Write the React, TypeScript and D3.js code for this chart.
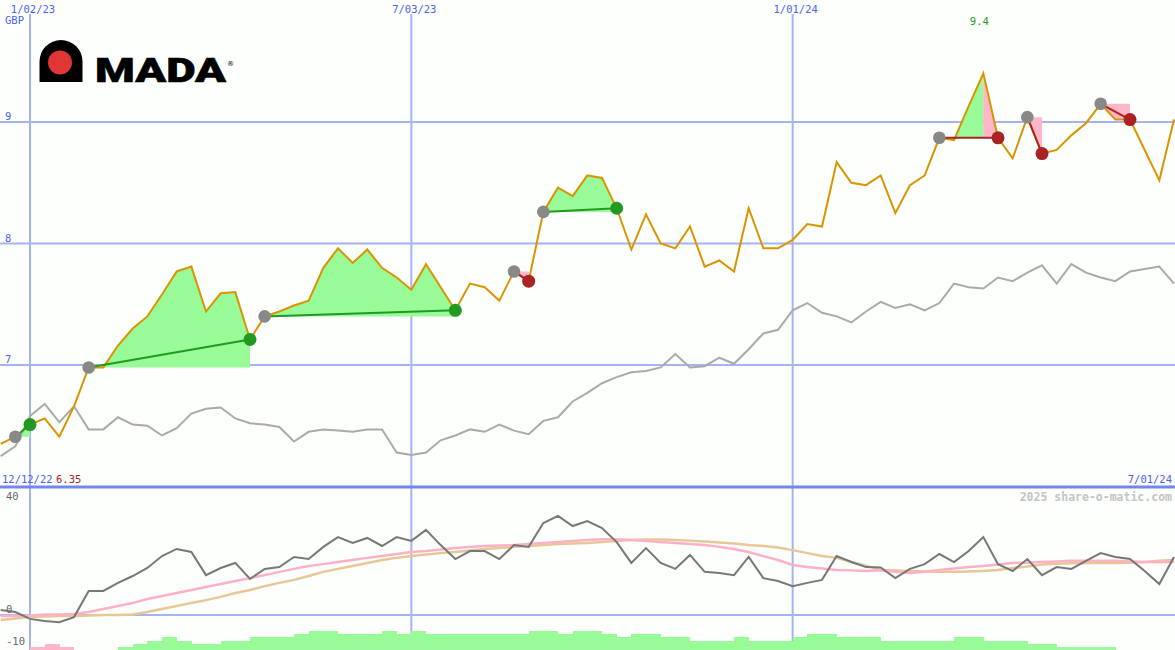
import React from "react";
import * as d3 from "d3";

// ---------- DATA (weekly, Mondays from 19 Dec 2022 to 1 Jul 2024) ----------
const startWeek = "2022-12-19";
const endWeek = "2024-07-01";

const price = [
  6.35, 6.41, 6.51, 6.56, 6.41, 6.66, 6.98, 6.98, 7.16, 7.30,
  7.40, 7.58, 7.77, 7.81, 7.44, 7.59, 7.60, 7.21, 7.40, 7.44,
  7.49, 7.53, 7.80, 7.96, 7.84, 7.95, 7.80, 7.72, 7.62, 7.83,
  7.64, 7.45, 7.67, 7.64, 7.53, 7.77, 7.69, 8.26, 8.46, 8.39,
  8.56, 8.54, 8.29, 7.95, 8.24, 8.00, 7.96, 8.14, 7.81, 7.86,
  7.77, 8.29, 7.96, 7.96, 8.03, 8.16, 8.14, 8.67, 8.50, 8.48,
  8.56, 8.25, 8.48, 8.56, 8.87, 8.85, 9.13, 9.40, 8.87, 8.70,
  9.04, 8.74, 8.77, 8.89, 8.99, 9.15, 9.02, 9.02, 8.77, 8.52,
  9.02,
];

const relative = [
  6.25, 6.33, 6.58, 6.68, 6.53, 6.66, 6.47, 6.47, 6.57, 6.51,
  6.50, 6.42, 6.48, 6.60, 6.64, 6.65, 6.56, 6.52, 6.51, 6.49,
  6.37, 6.45, 6.47, 6.46, 6.45, 6.47, 6.47, 6.28, 6.26, 6.28,
  6.38, 6.42, 6.47, 6.45, 6.51, 6.46, 6.43, 6.54, 6.57, 6.70,
  6.77, 6.85, 6.90, 6.94, 6.95, 6.98, 7.09, 6.98, 6.99, 7.06,
  7.01, 7.13, 7.26, 7.29, 7.45, 7.51, 7.43, 7.40, 7.35, 7.44,
  7.52, 7.47, 7.50, 7.45, 7.51, 7.67, 7.64, 7.63, 7.72, 7.69,
  7.76, 7.82, 7.67, 7.83, 7.76, 7.72, 7.69, 7.77, 7.79, 7.81,
  7.67,
];

const oscillator = [
  1.7, 1.0, -1.3, -2.0, -2.4, -0.7, 8.1, 8.1, 10.8, 13.1,
  15.8, 19.8, 22.2, 21.2, 13.4, 15.8, 17.5, 12.1, 15.5, 16.1,
  19.5, 18.8, 22.9, 26.2, 24.2, 25.9, 23.2, 26.2, 24.9, 28.6,
  23.5, 18.8, 21.5, 21.5, 18.8, 23.5, 22.9, 30.9, 33.3, 29.9,
  31.6, 29.2, 24.5, 17.5, 22.5, 17.5, 15.5, 20.2, 14.5, 14.1,
  13.4, 19.5, 12.4, 11.4, 9.7, 10.8, 11.8, 19.8, 17.8, 16.1,
  16.0, 12.4, 15.5, 17.1, 20.5, 17.8, 21.5, 26.2, 17.1, 14.8,
  18.8, 13.4, 16.1, 15.5, 18.2, 20.8, 19.5, 18.8, 14.8, 10.4,
  19.5,
];

const signalFast = [
  -0.3, -0.3, -0.2, 0.2, 0.2, 0.3, 1.0, 2.0, 3.0, 4.0,
  5.4, 6.4, 7.4, 8.4, 9.4, 10.4, 11.4, 12.4, 13.4, 14.5,
  15.5, 16.5, 17.1, 17.8, 18.5, 19.2, 19.8, 20.5, 21.2, 21.5,
  22.0, 22.5, 22.9, 23.2, 23.4, 23.5, 23.9, 24.2, 24.5, 24.9,
  25.2, 25.5, 25.5, 25.2, 24.9, 24.5, 24.2, 23.9, 23.5, 22.9,
  22.2, 21.2, 19.8, 18.5, 16.8, 16.1, 15.6, 15.1, 15.0, 14.8,
  15.0, 14.5, 14.1, 14.5, 15.1, 15.6, 16.1, 16.5, 17.0, 17.5,
  17.6, 17.8, 18.0, 18.2, 18.2, 18.2, 18.2, 18.0, 17.8, 17.8,
  17.8,
];

const signalSlow = [
  -1.7, -1.2, -0.7, -0.5, -0.3, -0.3, -0.2, 0.0, 0.0, 0.2,
  1.0, 2.0, 3.0, 4.0, 5.0, 6.1, 7.4, 8.4, 9.7, 10.8,
  11.8, 13.1, 14.5, 15.5, 16.5, 17.5, 18.5, 19.2, 19.8, 20.3,
  20.8, 21.2, 21.7, 22.2, 22.5, 22.9, 23.2, 23.5, 23.9, 24.0,
  24.2, 24.5, 24.9, 25.2, 25.4, 25.4, 25.2, 25.0, 24.7, 24.4,
  24.0, 23.5, 23.2, 22.7, 21.8, 20.8, 19.8, 19.2, 17.8, 16.6,
  15.1, 15.0, 14.8, 14.6, 14.5, 14.5, 14.6, 14.8, 15.1, 15.8,
  16.3, 17.0, 17.2, 17.4, 17.5, 17.5, 17.5, 17.6, 17.8, 18.2,
  18.5,
];

const histogram = [
  0, 0, -1, -2, -1, 0, 0, 0, 1, 2,
  3, 4, 3, 2, 2, 3, 3, 4, 4, 4,
  5, 6, 6, 5, 5, 5, 6, 5, 6, 5,
  5, 5, 5, 5, 5, 5, 6, 6, 5, 6,
  6, 5, 4, 5, 5, 4, 4, 3, 3, 3,
  4, 3, 3, 3, 4, 5, 5, 4, 4, 4,
  3, 3, 3, 3, 3, 4, 4, 3, 3, 3,
  2, 2, 1, 1, 1, 1, 0, 0, 0, 0,
  0,
];

// trades: indices into the weekly arrays
const tradeEntry = [1, 6, 18, 35, 37, 64, 70, 75];
const tradeExit = [2, 17, 31, 36, 42, 68, 71, 77];
const tradeWin = [true, true, true, false, true, false, false, false];

const gridDates = ["2023-01-02", "2023-07-03", "2024-01-01"];
const gridLabels = ["1/02/23", "7/03/23", "1/01/24"];
const priceTicks = [7, 8, 9];
const oscTicks = [40, 0, -10];

// ---------- CHART ----------
const W = 1175;
const H = 650;
const BG = "#fcfffc";
const GRID = "#a6b3f3";
const BLUE = "#4d5ff0";
const FONT = "'DejaVu Sans Mono', monospace";

const parse = (s: string) => {
  const [y, m, d] = s.split("-").map(Number);
  return new Date(Date.UTC(y, m - 1, d));
};

export default function App() {
  const weeks = d3.utcMonday.range(parse(startWeek), d3.utcDay.offset(parse(endWeek), 1));

  const x = d3.scaleUtc().domain([parse("2023-01-02"), parse("2024-07-01")]).range([30, 1174]);
  const yP = d3.scaleLinear().domain([7, 9]).range([365, 122]);
  const yO = d3.scaleLinear().domain([0, 40]).range([615, 496]);
  const yH = d3.scaleLinear().domain([0, 6]).range([650, 631]);

  const priceLine = d3.line<number>().x((_, i) => x(weeks[i])).y((d) => yP(d))(price) || "";
  const relLine = d3.line<number>().x((_, i) => x(weeks[i])).y((d) => yP(d))(relative) || "";
  const oscLine = (arr: number[]) =>
    d3.line<number>().x((_, i) => x(weeks[i])).y((d) => yO(d))(arr) || "";

  const maxIdx = d3.maxIndex(price);
  const minIdx = d3.minIndex(price);

  const fills: any[] = [];
  const tradeLines: any[] = [];
  const dots: any[] = [];
  tradeEntry.forEach((e, t) => {
    const ex = tradeExit[t];
    const base = yP(price[e]);
    const idx = d3.range(e, ex + 1);
    const area = d3
      .area<number>()
      .x((i) => x(weeks[i]))
      .y0(base)
      .y1((i) => yP(price[i]));
    if (tradeWin[t]) {
      fills.push(<path key={"f" + t} d={area(idx) || ""} fill="#98fb98" />);
    } else {
      let pk = e;
      idx.forEach((i) => {
        if (price[i] > price[pk]) pk = i;
      });
      if (pk > e)
        fills.push(<path key={"g" + t} d={area(d3.range(e, pk + 1)) || ""} fill="#98fb98" />);
      fills.push(<path key={"p" + t} d={area(d3.range(pk, ex + 1)) || ""} fill="#ffb6c8" />);
    }
    const col = tradeWin[t] ? "#229922" : "#aa2222";
    tradeLines.push(
      <line
        key={"l" + t}
        x1={x(weeks[e])}
        y1={yP(price[e])}
        x2={x(weeks[ex])}
        y2={yP(price[ex])}
        stroke={col}
        strokeWidth={2}
      />
    );
    dots.push(<circle key={"a" + t} cx={x(weeks[e])} cy={yP(price[e])} r={6.3} fill="#888888" />);
    dots.push(<circle key={"b" + t} cx={x(weeks[ex])} cy={yP(price[ex])} r={6.5} fill={col} />);
  });

  const bars = histogram.map((v, i) => {
    if (v === 0 || i + 1 >= weeks.length) return null;
    const x0 = x(weeks[i]);
    const x1 = x(weeks[i + 1]);
    return (
      <rect
        key={"h" + i}
        x={x0}
        width={x1 - x0 + 0.3}
        y={yH(Math.abs(v))}
        height={650 - yH(Math.abs(v))}
        fill={v > 0 ? "#98fb98" : "#ffb6c8"}
        shapeRendering="crispEdges"
      />
    );
  });

  return (
    <svg
      width={W}
      height={H}
      style={{ position: "absolute", left: 0, top: 0, display: "block" }}
      fontFamily={FONT}
    >
      <rect width={W} height={H} fill={BG} />

      {/* grid */}
      {priceTicks.map((t) => (
        <line key={"pg" + t} x1={0} x2={W} y1={yP(t)} y2={yP(t)} stroke={GRID} strokeWidth={2} />
      ))}
      {gridDates.map((d) => (
        <line key={"vg" + d} x1={x(parse(d))} x2={x(parse(d))} y1={14} y2={H} stroke={GRID} strokeWidth={2} />
      ))}
      <line x1={0} x2={W} y1={yO(0)} y2={yO(0)} stroke={GRID} strokeWidth={2} />
      <line x1={0} x2={W} y1={487} y2={487} stroke="#7585ee" strokeWidth={3} />

      {/* logo */}
      <g>
        <path d="M39.5,82 V61.5 A21.5,21.5 0 0 1 82.5,61.5 V82 Z" fill="#000" />
        <circle cx={60} cy={62.5} r={12} fill="#e03636" />
        <text
          x={95}
          y={82}
          fontFamily="Roboto, 'Liberation Sans', sans-serif"
          fontWeight={900}
          fontSize={34}
          textLength={131}
          lengthAdjust="spacingAndGlyphs"
          fill="#000"
          stroke="#000"
          strokeWidth={0.6}
        >
          MADA
        </text>
        <text x={227} y={66} fontSize={7} fontFamily="'DejaVu Sans', sans-serif" fill="#000">
          ®
        </text>
      </g>

      {/* trade fills */}
      {fills}

      {/* relative line */}
      <path d={relLine} fill="none" stroke="#aaaaaa" strokeWidth={2} />
      {/* price line */}
      <path d={priceLine} fill="none" stroke="#d99400" strokeWidth={2} />
      {tradeLines}
      {dots}

      {/* lower panel */}
      {bars}
      <path d={oscLine(signalSlow)} fill="none" stroke="#e6c896" strokeWidth={2.5} />
      <path d={oscLine(signalFast)} fill="none" stroke="#ffb0c4" strokeWidth={2.5} />
      <path d={oscLine(oscillator)} fill="none" stroke="#777777" strokeWidth={2} />

      {/* texts */}
      {gridDates.map((d, i) => (
        <text key={"gl" + d} x={x(parse(d)) + 3} y={13} fontSize={10.5} fill={BLUE} textAnchor="middle">
          {gridLabels[i]}
        </text>
      ))}
      <text x={5} y={24} fontSize={10.5} fill={BLUE}>
        GBP
      </text>
      {priceTicks.map((t) => (
        <text key={"pl" + t} x={5} y={yP(t) - 2} fontSize={10.5} fill={BLUE}>
          {t}
        </text>
      ))}
      <text x={x(weeks[maxIdx]) - 4} y={25} fontSize={10.5} fill="#229922" textAnchor="middle">
        {d3.format(".1f")(price[maxIdx])}
      </text>
      <text x={2} y={483} fontSize={10.5} fill={BLUE}>
        12/12/22
      </text>
      <text x={56} y={483} fontSize={10.5} fill="#aa2222">
        {d3.format(".2f")(price[minIdx])}
      </text>
      <text x={1172} y={483} fontSize={10.5} fill={BLUE} textAnchor="end">
        7/01/24
      </text>
      <text x={1172} y={501} fontSize={11.5} fontWeight="bold" fill="#c4c4c4" textAnchor="end">
        2025 share-o-matic.com
      </text>
      {oscTicks.map((t) => (
        <text key={"ol" + t} x={6} y={t === 40 ? 500 : t === 0 ? 613 : 645} fontSize={10.5} fill="#666666">
          {t}
        </text>
      ))}
    </svg>
  );
}
